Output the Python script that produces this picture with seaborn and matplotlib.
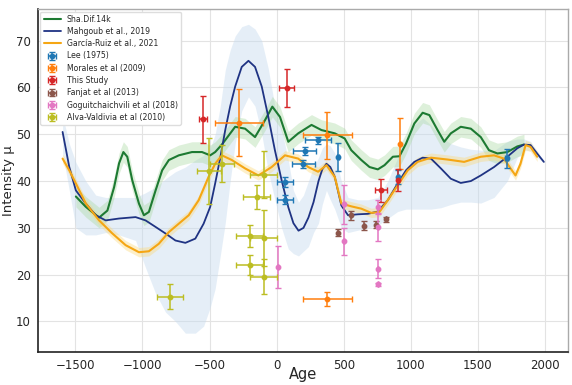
import numpy as np
import pandas as pd
import matplotlib
matplotlib.use('Agg')
import matplotlib.pyplot as plt
import seaborn as sns


# model curves
sha_age = [-1496, -1422, -1323, -1261, -1211, -1174, -1142, -1113, -1076, -1026, -989, -952,
           -902, -853, -803, -729, -631, -556, -495, -458, -408, -309, -235, -161, -87, -32,
           25, 87, 161, 260, 334, 433, 507, 556, 631, 692, 754, 804, 866, 915, 964, 1026,
           1088, 1138, 1199, 1249, 1298, 1372, 1447, 1521, 1582, 1645, 1719, 1793, 1843]
sha_int = [36.7, 34.5, 32.2, 33.7, 38.7, 43.8, 46.2, 45.2, 40.2, 35.2, 32.7, 33.4,
           38.0, 42.3, 44.5, 45.5, 46.2, 46.2, 45.5, 46.2, 47.8, 51.6, 51.2, 49.4, 53.0, 55.9,
           53.7, 48.4, 50.2, 52.0, 50.9, 50.2, 49.1, 46.6, 44.5, 43.0, 42.5, 43.4, 45.2, 45.3, 48.0, 52.3,
           54.6, 54.1, 50.9, 48.4, 50.2, 51.6, 51.2, 49.4, 46.6, 45.9, 46.2, 47.4, 47.8]
sha_err = 2.2

mah_age = [-1595, -1545, -1496, -1422, -1348, -1274, -1174, -1051, -977, -902, -828, -754,
           -680, -606, -544, -495, -458, -420, -383, -346, -309, -260, -210, -161, -111, -62,
           -13, 37, 87, 125, 163, 200, 237, 275, 312, 340, 371, 400, 433, 482, 532, 606,
           680, 754, 828, 902, 964, 1026, 1088, 1150, 1224, 1298, 1372, 1447, 1521, 1620,
           1719, 1793, 1843, 1892, 1941, 1991]
mah_int = [50.5, 43.0, 38.0, 35.2, 32.7, 31.6, 32.0, 32.3, 31.6, 30.2, 28.8, 27.3,
           26.8, 27.7, 30.9, 34.5, 39.5, 45.0, 50.9, 56.0, 60.2, 64.4, 65.7, 64.4, 60.2, 53.7,
           46.6, 40.2, 34.4, 31.0, 29.4, 30.0, 32.2, 35.5, 40.0, 42.5, 43.7, 43.0, 40.9, 34.8, 32.7, 32.9,
           33.0, 33.5, 35.9, 39.5, 42.3, 44.1, 45.0, 44.8, 42.7, 40.5, 39.6, 40.0, 41.2, 43.0,
           45.2, 47.0, 47.8, 47.7, 45.9, 44.1]
mah_lo = [46.0, 38.0, 30.0, 28.5, 28.5, 29.0, 28.5, 27.3, 21.5, 16.0, 12.0, 10.0,
          7.5, 7.5, 9.0, 13.0, 17.0, 24.0, 31.0, 40.0, 48.0, 55.0, 58.0, 56.0, 50.0, 42.0,
          36.0, 30.0, 25.5, 24.5, 24.0, 25.0, 26.0, 29.0, 31.0, 35.0, 38.0, 36.0, 34.0, 30.0, 29.0, 29.5,
          30.0, 30.5, 32.0, 33.5, 34.0, 34.0, 34.0, 34.0, 34.3, 35.0, 35.5, 35.5, 35.3, 36.5,
          40.0, 45.0, 46.5, 46.5, 45.0, 44.0]
mah_hi = [54.0, 48.0, 44.0, 40.0, 37.0, 36.5, 36.5, 36.5, 37.5, 38.7, 40.5, 42.0,
          43.0, 44.5, 45.5, 47.0, 50.0, 56.0, 63.7, 68.0, 71.0, 73.0, 73.5, 72.5, 70.0, 64.0,
          56.0, 51.0, 44.5, 38.0, 35.5, 37.0, 40.0, 43.0, 45.0, 47.0, 48.0, 47.5, 46.0, 40.0, 36.5, 36.0,
          36.0, 36.5, 40.0, 45.0, 49.0, 52.0, 53.5, 52.0, 49.4, 48.0, 47.3, 46.8, 46.6, 46.5,
          48.5, 49.0, 49.0, 48.5, 46.5, 44.3]

gr_age = [-1595, -1545, -1496, -1422, -1323, -1224, -1125, -1026, -952, -878, -803, -729,
          -655, -581, -507, -458, -408, -334, -235, -136, -37, 62, 161, 235, 309, 371,
          433, 482, 556, 631, 705, 766, 828, 902, 977, 1051, 1150, 1274, 1397, 1521, 1620,
          1694, 1743, 1780, 1817, 1855, 1892, 1941]
gr_int = [44.8, 42.3, 39.5, 35.2, 31.6, 28.8, 26.3, 24.8, 25.0, 26.6, 29.1, 30.9,
          32.7, 35.9, 40.9, 43.7, 45.5, 44.5, 42.7, 41.2, 43.0, 45.5, 44.8, 43.0, 42.0, 43.4,
          40.9, 35.2, 34.6, 34.1, 33.2, 33.4, 35.9, 39.1, 42.3, 44.1, 45.0, 44.6, 44.1, 45.2, 45.5,
          44.8, 42.7, 41.2, 43.7, 47.7, 47.3, 45.2]
gr_err = 1.0

# archaeointensity data
lee_age = [59, 62, 198, 210, 309, 457, 905, 1714]
lee_int = [39.8, 36.0, 43.7, 46.4, 48.7, 45.2, 40.8, 44.9]
lee_xerr = [60, 60, 85, 85, 95, 10, 10, 10]
lee_yerr = [1.0, 1.0, 0.8, 0.8, 0.8, 3.0, 1.5, 2.0]

morales_age = [-282, 378, 378, 920]
morales_int = [52.5, 49.8, 14.9, 48.0]
morales_xerr = [180, 180, 180, 0]
morales_yerr = [7.2, 5.0, 1.5, 5.4]

this_age = [-549, 74, 779, 905]
this_int = [53.2, 59.9, 38.0, 40.2]
this_xerr = [30, 55, 45, 10]
this_yerr = [5.0, 4.0, 2.5, 2.3]

fanjat_age = [460, 556, 653, 742, 816]
fanjat_int = [29.0, 32.7, 30.5, 30.7, 31.8]
fanjat_xerr = [0, 0, 0, 0, 0]
fanjat_yerr = [0.8, 1.0, 1.0, 0.8, 0.6]

gogu_age = [7, 504, 504, 757, 757, 757, 757]
gogu_int = [21.7, 35.0, 27.1, 34.4, 30.1, 21.3, 17.9]
gogu_xerr = [0, 0, 0, 0, 0, 0, 0]
gogu_yerr = [4.5, 4.1, 2.9, 1.5, 3.0, 2.1, 0.4]

alva_age = [-795, -504, -408, -200, -200, -148, -97, -97, -97]
alva_int = [15.3, 42.2, 43.7, 28.3, 22.1, 36.6, 41.4, 27.8, 19.6]
alva_xerr = [100, 90, 90, 100, 100, 100, 100, 100, 100]
alva_yerr = [2.7, 7.0, 4.0, 2.4, 2.2, 2.5, 5.0, 6.0, 3.7]


def main():

    sns.set_theme(style='whitegrid')
    plt.rcParams['font.family'] = ['DejaVu Sans']

    fig = plt.figure(figsize=(5.72, 3.85), dpi=100)
    ax = fig.add_axes([0.066, 0.086, 0.927, 0.891])

    sha = pd.DataFrame({'age': sha_age, 'int': sha_int})
    mah = pd.DataFrame({'age': mah_age, 'int': mah_int, 'lo': mah_lo, 'hi': mah_hi})
    gr = pd.DataFrame({'age': gr_age, 'int': gr_int})

    # uncertainty bands
    ax.fill_between(mah['age'], mah['lo'], mah['hi'], color='#c6dbef', alpha=0.45, lw=0, zorder=1)
    ax.fill_between(sha['age'], sha['int'] - sha_err, sha['int'] + sha_err,
                    color='#a8d8a0', alpha=0.38, lw=0, zorder=1)
    ax.fill_between(gr['age'], gr['int'] - gr_err, gr['int'] + gr_err,
                    color='#fbd97a', alpha=0.4, lw=0, zorder=1)

    sns.lineplot(data=sha, x='age', y='int', color='#1d7a32', lw=1.5, label='Sha.Dif.14k', ax=ax, zorder=3)
    sns.lineplot(data=mah, x='age', y='int', color='#1f3383', lw=1.3, label='Mahgoub et al., 2019', ax=ax, zorder=3)
    sns.lineplot(data=gr, x='age', y='int', color='#f5a614', lw=1.5, label='García-Ruiz et al., 2021', ax=ax, zorder=3)

    studies = [
        (lee_age, lee_int, lee_xerr, lee_yerr, '#1f77b4', 'Lee (1975)'),
        (morales_age, morales_int, morales_xerr, morales_yerr, '#ff7f0e', 'Morales et al (2009)'),
        (this_age, this_int, this_xerr, this_yerr, '#d62728', 'This Study'),
        (fanjat_age, fanjat_int, fanjat_xerr, fanjat_yerr, '#8c564b', 'Fanjat et al (2013)'),
        (gogu_age, gogu_int, gogu_xerr, gogu_yerr, '#e377c2', 'Goguitchaichvili et al (2018)'),
        (alva_age, alva_int, alva_xerr, alva_yerr, '#bcbd22', 'Alva-Valdivia et al (2010)'),
    ]
    for age, inten, xerr, yerr, color, label in studies:
        ax.errorbar(age, inten, xerr=xerr, yerr=yerr, fmt='o', color=color, ms=3.2,
                    elinewidth=1.1, capsize=2, capthick=1, label=label, zorder=4)

    ax.set_xlim(-1780, 2171)
    ax.set_ylim(3.5, 76.8)
    ax.set_xticks([-1500, -1000, -500, 0, 500, 1000, 1500, 2000])
    ax.set_yticks([10, 20, 30, 40, 50, 60, 70])
    ax.tick_params(labelsize=8.5, length=3, color='#333333', pad=2)
    ax.grid(color='#e3e3e3', lw=0.8)

    ax.set_xlabel('Age', fontsize=10.5)
    ax.set_ylabel('Intensity μ', fontsize=9.5)
    ax.xaxis.set_label_coords(0.5, -0.045)
    ax.yaxis.set_label_coords(-0.042, 0.5)

    for side in ['left', 'bottom']:
        ax.spines[side].set_color('#222222')
        ax.spines[side].set_linewidth(1.2)
    for side in ['top', 'right']:
        ax.spines[side].set_color('#aaaaaa')
        ax.spines[side].set_linewidth(1.0)

    ax.legend(loc='upper left', fontsize=5.6, labelspacing=0.42, borderaxespad=0.35,
              handlelength=2.2, frameon=True, framealpha=1, edgecolor='#dddddd')

    fig.savefig('out.png', dpi=100)


if __name__ == '__main__':
    main()
